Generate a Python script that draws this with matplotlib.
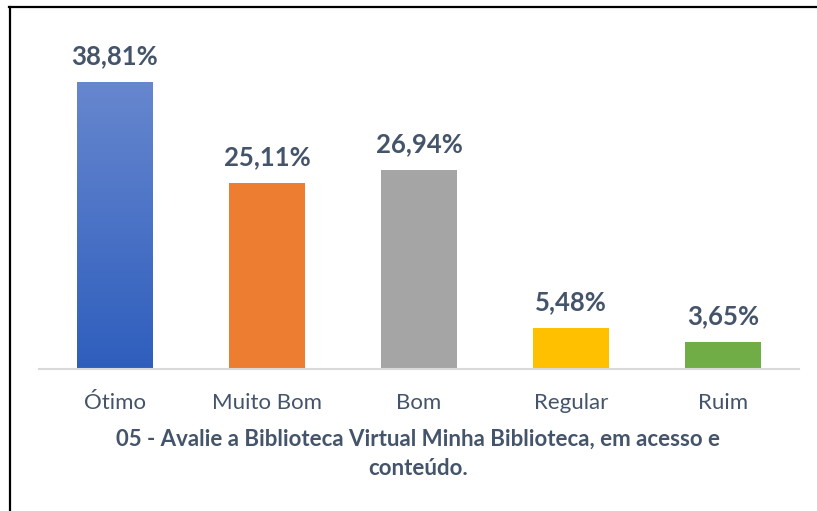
import numpy as np
import matplotlib
matplotlib.use("Agg")
from matplotlib import pyplot as plt
from matplotlib.lines import Line2D
from matplotlib.colors import LinearSegmentedColormap

# chart data
categories = ["Ótimo", "Muito Bom", "Bom", "Regular", "Ruim"]
values = [38.81, 25.11, 26.94, 5.48, 3.65]
value_labels = ["38,81%", "25,11%", "26,94%", "5,48%", "3,65%"]
colors = ["#4472C4", "#ED7D31", "#A5A5A5", "#FFC000", "#70AD47"]
title = "05 - Avalie a Biblioteca Virtual Minha Biblioteca, em acesso e\nconteúdo."

text_color = "#44546A"
plt.rcParams['font.family'] = ['Lato', 'DejaVu Sans']

W, H = 817, 511
fig = plt.figure(figsize=(W / 100, H / 100), dpi=100)
ax = fig.add_axes([39 / W, (H - 369) / H, 760 / W, (369 - 36) / H])

x = np.arange(len(categories))
bars = ax.bar(x, values, width=0.5, color=colors, zorder=2)

# first bar has a vertical gradient, light at the top
b0 = bars[0]
grad = LinearSegmentedColormap.from_list("blue", ["#2E5EBD", "#6787CF"])
img = ax.imshow(np.linspace(0, 1, 256).reshape(-1, 1), cmap=grad, aspect="auto",
                origin="lower", zorder=3,
                extent=[b0.get_x(), b0.get_x() + b0.get_width(), 0, b0.get_height()])
img.set_clip_path(b0)

for i, v in enumerate(values):
	ax.annotate(value_labels[i], (x[i], v), xytext=(0, 10), textcoords="offset points",
	            ha="center", va="bottom", fontsize=18.5, fontweight="bold", color=text_color)

ax.set_xlim(-0.5, len(categories) - 0.5)
ax.set_ylim(0, 45)
ax.set_yticks([])
ax.set_xticks(x)
ax.set_xticklabels(categories, fontsize=16, color=text_color)
ax.tick_params(axis="x", length=0, pad=17.5)
for s in ["top", "right", "left"]:
	ax.spines[s].set_visible(False)
ax.spines["bottom"].set_color("#D9D9D9")
ax.spines["bottom"].set_linewidth(1.5)
ax.spines["bottom"].set_zorder(4)

fig.text(418 / W, 1 - 454 / H, title, ha="center", va="center", fontsize=16,
         fontweight="bold", color=text_color, linespacing=1.45)

# frame lines (top and left only)
fig.add_artist(Line2D([9 / W, 1], [1 - 7.5 / H, 1 - 7.5 / H], color="black", lw=1.6))
fig.add_artist(Line2D([9.5 / W, 9.5 / W], [0, 1 - 7 / H], color="black", lw=1.6))

fig.savefig("out.png", dpi=100)
